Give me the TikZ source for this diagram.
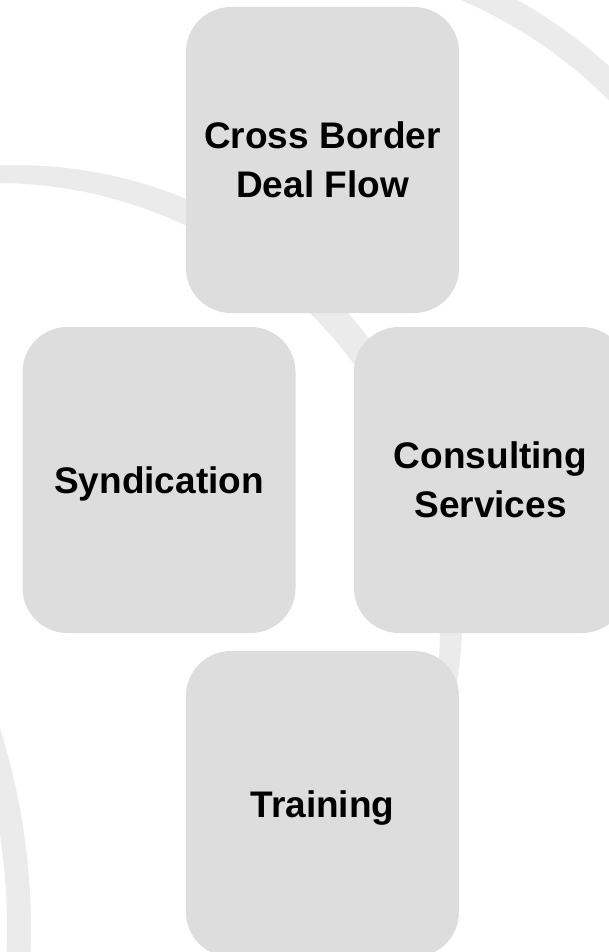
\documentclass[tikz,border=0pt]{standalone}
\usepackage{fontspec}
\setmainfont{Liberation Sans}
\definecolor{boxcol}{RGB}{221,221,221}
\definecolor{bandcol}{RGB}{235,235,235}
\tikzset{
  tile/.style={rectangle, rounded corners=33.75pt, fill=boxcol,
    minimum width=204.75pt, minimum height=229.5pt, inner sep=0pt,
    align=center, font=\fontsize{27.75}{36.4}\selectfont\bfseries},
  band/.style={draw=bandcol, line width=18.5pt}
}
\begin{document}
\begin{tikzpicture}[x=0.75pt, y=-0.75pt]
\useasboundingbox (0,0) rectangle (609,952);
\clip (0,0) rectangle (609,952);
% background bands
\fill[bandcol] plot[domain=-96:20, samples=90] ({15.5+447*cos(\x)},{612+447*sin(\x)})
  -- plot[domain=18:-96, samples=90] ({-3.9+444*cos(\x)},{627+444*sin(\x)}) -- cycle;
\draw[band, line width=18.75pt] plot[domain=-72:-38, samples=60] ({272+489.5*cos(\x)},{438+489.5*sin(\x)});
\draw[band, line width=18pt] plot[domain=-26:9, samples=60] ({-635+654*cos(\x)},{929+654*sin(\x)});
% tiles
\node[tile] (deal) at (322.5,160) {Cross Border\\Deal Flow};
\node[tile, text depth=0pt] (synd) at (159,480) {Syndication};
\node[tile] (cons) at (490.5,480) {Consulting\\Services};
\node[tile, text depth=0pt] (train) at (322.5,804) {Training};
\end{tikzpicture}
\end{document}
